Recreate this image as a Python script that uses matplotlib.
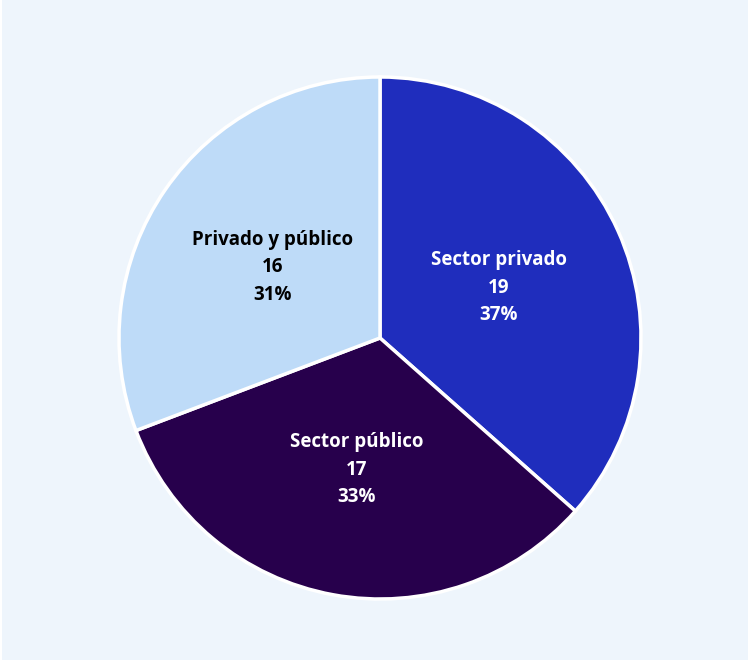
import math

import matplotlib.pyplot as plt
from matplotlib.patches import Rectangle

labels = ["Sector privado", "Sector público", "Privado y público"]
values = [19, 17, 16]
colors = ["#1f2dbd", "#27004c", "#bedbf8"]
text_colors = ["white", "white", "black"]

total = sum(values)

fig = plt.figure(figsize=(7.51, 6.63), dpi=100)
fig.patch.set_facecolor("white")
# light blue panel behind the chart, thin white margin around it
fig.patches.append(Rectangle((2 / 751, 3 / 663), 746 / 751, 660 / 663,
                             transform=fig.transFigure, facecolor="#eef5fc",
                             edgecolor="none", zorder=-5))

# centre ~ (380, 338), radius ~ 260 px
cx, cy, r = 380, 338, 261
ax = fig.add_axes([(cx - r) / 751, (663 - cy - r) / 663, 2 * r / 751, 2 * r / 663])
ax.set_zorder(2)
ax.set_facecolor("none")

wedges, texts = ax.pie(
    values,
    colors=colors,
    startangle=90,
    counterclock=False,
    radius=1.0,
    wedgeprops=dict(edgecolor="white", linewidth=2.5),
)

for w, lab, val, tc in zip(wedges, labels, values, text_colors):
    ang = math.radians((w.theta1 + w.theta2) / 2)
    x = 0.5 * math.cos(ang)
    y = 0.5 * math.sin(ang) - 0.013
    pct = round(100 * val / total)
    ax.text(x, y, f"{lab}\n{val}\n{pct}%", ha="center", va="center",
            color=tc, fontsize=13.5, fontweight="bold", family="Open Sans",
            linespacing=1.5)

ax.set_xlim(-1, 1)
ax.set_ylim(-1, 1)
ax.set_aspect("equal")
ax.axis("off")

fig.savefig("out.png", dpi=100)
